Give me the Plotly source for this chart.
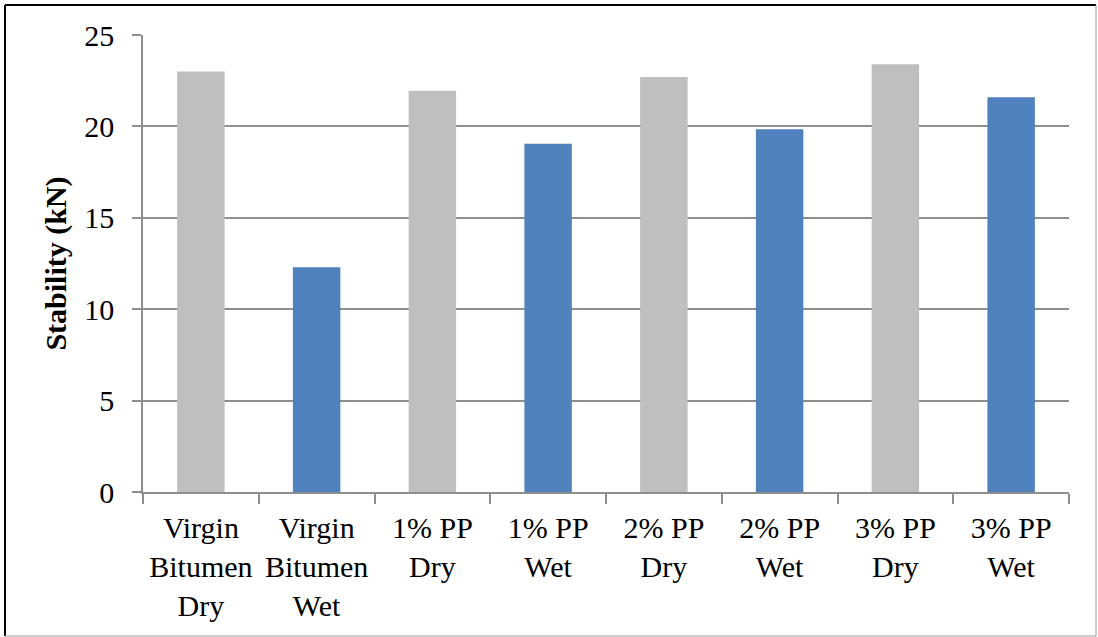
import plotly.graph_objects as go

categories = [
    "Virgin<br>Bitumen<br>Dry",
    "Virgin<br>Bitumen<br>Wet",
    "1% PP<br>Dry",
    "1% PP<br>Wet",
    "2% PP<br>Dry",
    "2% PP<br>Wet",
    "3% PP<br>Dry",
    "3% PP<br>Wet",
]
stability_kn = [23.0, 12.3, 21.95, 19.05, 22.7, 19.85, 23.4, 21.6]
bar_colors = ["#BFBFBF", "#4F81BD"] * 4
y_ticks = [0, 5, 10, 15, 20, 25]

W, H = 1098, 637
L, R, T, B = 143, 29, 35, 145
pw, ph = W - L - R, H - T - B

GRID = "#8E8E8E"
FONT = "Liberation Serif"

fig = go.Figure(
    go.Bar(
        x=categories,
        y=stability_kn,
        marker=dict(color=bar_colors, line=dict(width=0)),
        width=0.41,
    )
)

fig.update_layout(
    width=W,
    height=H,
    margin=dict(l=L, r=R, t=T, b=B),
    paper_bgcolor="white",
    plot_bgcolor="white",
    showlegend=False,
    font=dict(family=FONT, color="black", size=30),
    xaxis=dict(
        type="category",
        showgrid=False,
        showline=True,
        linecolor=GRID,
        linewidth=1.5,
        ticks="outside",
        tickson="boundaries",
        ticklen=10,
        tickcolor=GRID,
        tickwidth=1.5,
        tickfont=dict(family=FONT, size=30),
        ticklabelstandoff=8,
    ),
    yaxis=dict(
        range=[0, 25],
        tickvals=y_ticks,
        showgrid=True,
        gridcolor=GRID,
        gridwidth=1.5,
        showline=True,
        linecolor=GRID,
        linewidth=1.5,
        ticks="outside",
        ticklen=9,
        tickcolor=GRID,
        tickwidth=1.5,
        tickfont=dict(family=FONT, size=30),
        ticklabelstandoff=12,
        zeroline=False,
        title=dict(
            text="<b>Stability (kN)</b>",
            font=dict(family=FONT, size=30),
            standoff=9,
        ),
    ),
)

# outer frame: dark top/left edges, light bottom/right edges
def px_x(v):
    return (v - L) / pw

def px_y(v):
    return (H - B - v) / ph

fx0, fx1, fy0, fy1 = px_x(5), px_x(1096), px_y(636), px_y(5)
frame = [
    (fx0, fy1, fx1, fy1, "black", 2),
    (fx0, fy0, fx0, fy1, "black", 2),
    (fx1, fy0, fx1, fy1, "#9A9A9A", 1),
    (fx0, fy0, fx1, fy0, "#9A9A9A", 1),
]
for x0, y0, x1, y1, c, w in frame:
    fig.add_shape(
        type="line", xref="paper", yref="paper",
        x0=x0, y0=y0, x1=x1, y1=y1,
        line=dict(color=c, width=w), layer="above",
    )

fig.write_html("out.html")
